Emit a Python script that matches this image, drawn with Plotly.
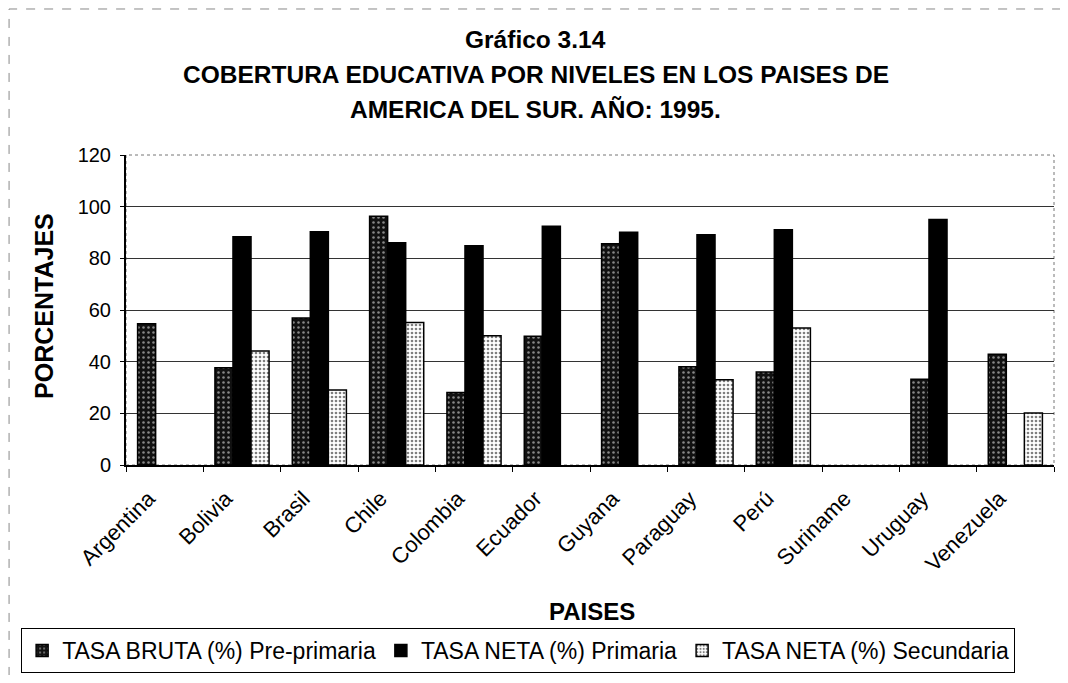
import plotly.graph_objects as go

paises = ["Argentina", "Bolivia", "Brasil", "Chile", "Colombia", "Ecuador",
          "Guyana", "Paraguay", "Perú", "Suriname", "Uruguay", "Venezuela"]
pre_primaria = [54.7, 37.6, 56.9, 96.3, 28.1, 49.8, 85.6, 38.0, 36.0, None, 33.2, 42.9]
primaria = [None, 88.4, 90.3, 86.0, 84.9, 92.4, 90.1, 89.1, 91.1, None, 95.0, None]
secundaria = [None, 44.1, 29.0, 55.2, 50.0, None, None, 33.0, 53.0, None, None, 20.1]
y_ticks = [0, 20, 40, 60, 80, 100, 120]

FONT = "Liberation Sans, Arial, sans-serif"

fig = go.Figure()
fig.add_trace(go.Bar(
    name="TASA BRUTA (%) Pre-primaria", x=paises, y=pre_primaria,
    marker=dict(color="#111111", line=dict(color="#000000", width=1.5),
                pattern=dict(shape=".", fgcolor="#ffffff", bgcolor="#111111",
                             size=5, solidity=0.2)),
))
fig.add_trace(go.Bar(
    name="TASA NETA (%) Primaria", x=paises, y=primaria,
    marker=dict(color="#000000", line=dict(color="#000000", width=1.5)),
))
fig.add_trace(go.Bar(
    name="TASA NETA (%) Secundaria", x=paises, y=secundaria,
    marker=dict(color="#ffffff", line=dict(color="#000000", width=1.5),
                pattern=dict(shape=".", fgcolor="#000000", bgcolor="#ffffff",
                             size=4, solidity=0.35)),
))

# plot-area border (faint) and outer scan frame
fig.add_shape(type="rect", xref="paper", yref="paper", x0=0, x1=1, y0=0, y1=1,
              line=dict(color="#777777", width=1, dash="dot"), layer="below")
fig.add_shape(type="rect", xref="paper", yref="paper", x0=-0.126, x1=1.03, y0=-0.75, y1=1.471,
              line=dict(color="#888888", width=1, dash="dash"), layer="below")

titles = ["Gráfico 3.14",
          "COBERTURA EDUCATIVA POR NIVELES EN LOS PAISES DE",
          "AMERICA DEL SUR. AÑO: 1995."]
title_y = [1.371, 1.259, 1.148]
for t, yy in zip(titles, title_y):
    fig.add_annotation(text="<b>%s</b>" % t, xref="paper", yref="paper",
                       x=0.4418, y=yy, xanchor="center", yanchor="middle",
                       showarrow=False, font=dict(family=FONT, size=24.5, color="#000"))

# axis titles
fig.add_annotation(text="<b>PAISES</b>", xref="paper", yref="paper",
                   x=0.502, y=-0.471, xanchor="center", yanchor="middle",
                   showarrow=False, font=dict(family=FONT, size=24, color="#000"))
fig.add_annotation(text="<b>PORCENTAJES</b>", xref="paper", yref="paper",
                   x=-0.0884, y=0.513, xanchor="center", yanchor="middle", textangle=-90,
                   showarrow=False, font=dict(family=FONT, size=25, color="#000"))

fig.update_layout(
    width=1060, height=667, autosize=False,
    margin=dict(l=118, r=14, t=147, b=210, autoexpand=False),
    paper_bgcolor="#ffffff", plot_bgcolor="#ffffff",
    font=dict(family=FONT, color="#000000"),
    barmode="group", bargap=0.3, bargroupgap=0,
    showlegend=True,
    legend=dict(orientation="h", x=-0.113, y=-0.526, xanchor="left", yanchor="top",
                bordercolor="#000000", borderwidth=1, bgcolor="#ffffff",
                font=dict(family=FONT, size=23, color="#000"),
                traceorder="normal"),
    xaxis=dict(
        type="category", tickangle=-45, tickson="boundaries",
        ticks="outside", ticklen=5, tickcolor="#000",
        showline=True, linecolor="#000000", linewidth=2,
        tickfont=dict(family=FONT, size=22, color="#000"),
        ticklabelshift=-16, ticklabelstandoff=10,
        showgrid=False, automargin=False,
    ),
    yaxis=dict(
        range=[0, 120], tickvals=y_ticks, ticktext=[str(v) for v in y_ticks],
        ticks="outside", ticklen=4, tickcolor="#000",
        showline=True, linecolor="#000000", linewidth=2,
        showgrid=True, gridcolor="#333333", gridwidth=1,
        zeroline=False,
        tickfont=dict(family=FONT, size=20, color="#000"),
        ticklabelstandoff=5,
        automargin=False,
    ),
)

fig.write_html("out.html")
